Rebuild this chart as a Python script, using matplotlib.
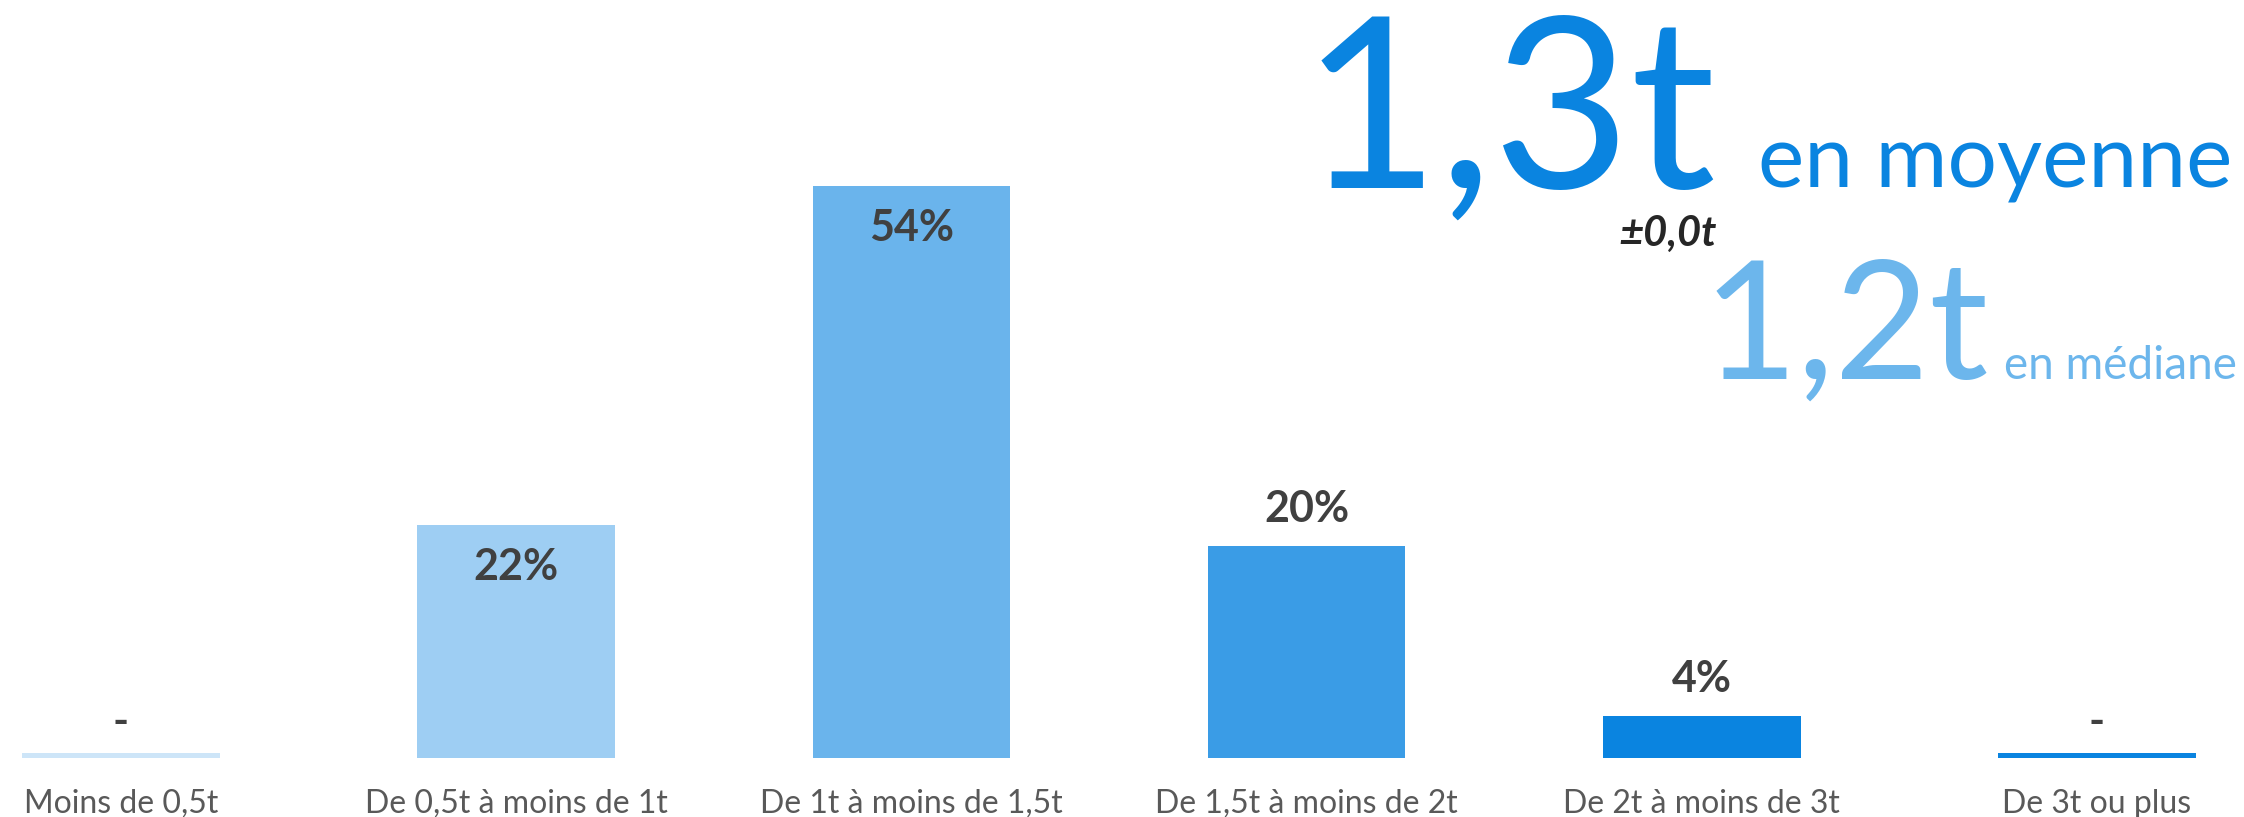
import matplotlib.pyplot as plt

# données du graphique
categories = ["Moins de 0,5t", "De 0,5t à moins de 1t", "De 1t à moins de 1,5t",
              "De 1,5t à moins de 2t", "De 2t à moins de 3t", "De 3t ou plus"]
valeurs = [0, 22, 54, 20, 4, 0]
couleurs = ["#cde5f8", "#9ecef3", "#6ab4ec", "#3a9ce6", "#0a84e0", "#0a84e0"]

moyenne = "1,3t"
ecart = "±0,0t"
mediane = "1,2t"

plt.rcParams['font.family'] = ['Lato', 'DejaVu Sans']

fig = plt.figure(figsize=(22.44, 8.17), dpi=100)
ax = fig.add_axes([0, 0, 1, 1])
ax.axis("off")

x = list(range(len(categories)))
hauteurs = [v if v > 0 else 0.45 for v in valeurs]
ax.bar(x, hauteurs, width=0.5, color=couleurs)

ax.set_xlim(-0.306, 5.372)
ax.set_ylim(-5.57, 71.5)

for i, v in enumerate(valeurs):
    if v == 0:
        txt, dy = "-", 36
    elif v >= 22:
        txt, dy = f"{v}%", -42
    else:
        txt, dy = f"{v}%", 37
    ax.annotate(txt, xy=(i, v), xytext=(0, dy), textcoords="offset pixels",
                ha="center", va="center", fontsize=31, fontweight="bold", color="#404040")
    ax.annotate(categories[i], xy=(i, 0), xytext=(0, -46), textcoords="offset pixels",
                ha="center", va="center", fontsize=23, color="#595959")

# chiffres clés
fig.text(0.765, 0.770, moyenne, ha="right", va="baseline", fontsize=171,
         color="#0a84e0")
fig.text(0.9947, 0.770, "en moyenne", ha="right", va="baseline", fontsize=63,
         color="#0a84e0")
fig.text(0.765, 0.699, ecart, ha="right", va="baseline", fontsize=30,
         fontweight="bold", fontstyle="italic", color="#262626")
fig.text(0.886, 0.536, mediane, ha="right", va="baseline", fontsize=118,
         color="#6cb6ec")
fig.text(0.997, 0.536, "en médiane", ha="right", va="baseline", fontsize=33,
         color="#6cb6ec")

fig.savefig("out.png", dpi=100)
